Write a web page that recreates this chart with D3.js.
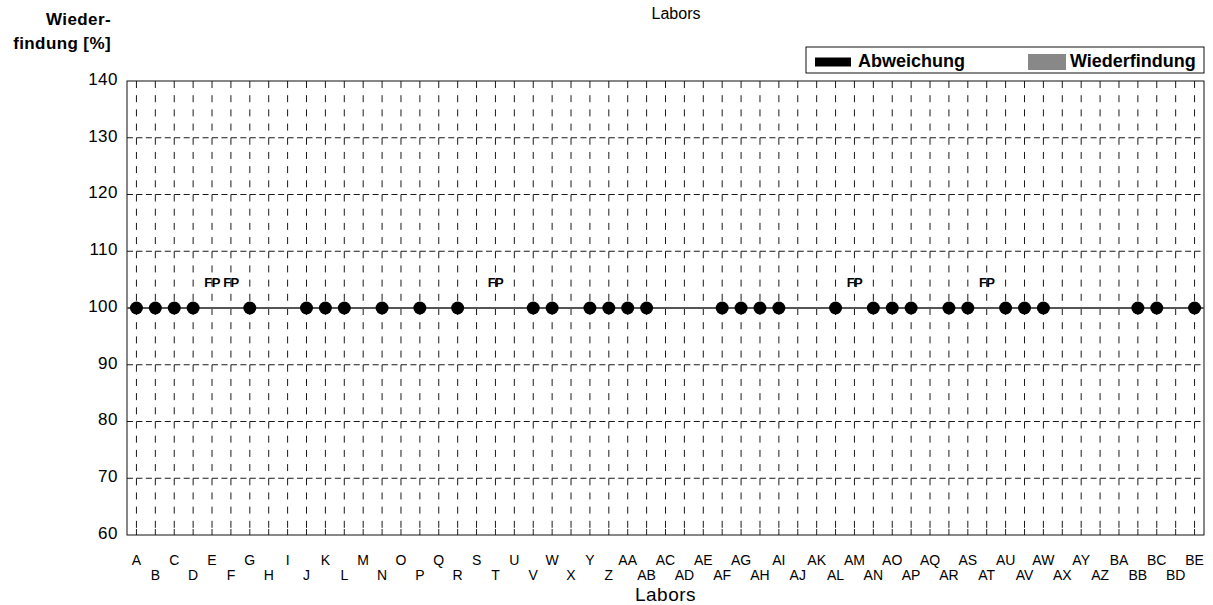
<!DOCTYPE html>
<html>
<head>
<meta charset="utf-8">
<script src="https://cdn.jsdelivr.net/npm/d3@7"></script>
<style>
  body { margin: 0; background: #fff; }
  svg { font-family: "Liberation Sans", Arial, sans-serif; }
  .grid line { stroke: #1a1a1a; stroke-width: 1; }
  .ytick text { font-size: 17px; letter-spacing: 0.5px; }
  .xlab { font-size: 14px; }
  .fp { font-size: 13px; font-weight: bold; letter-spacing: -0.6px; }
</style>
</head>
<body>
<div class="graphic"></div>
<script>
// labs on the x axis
const labs = ["A","B","C","D","E","F","G","H","I","J","K","L","M","N","O","P","Q","R","S","T",
    "U","V","W","X","Y","Z","AA","AB","AC","AD","AE","AF","AG","AH","AI","AJ","AK","AL","AM","AN",
    "AO","AP","AQ","AR","AS","AT","AU","AV","AW","AX","AY","AZ","BA","BB","BC","BD","BE"]

// Wiederfindung per lab (null = no result)
const recovery = [100,100,100,100,null,null,100,null,null,100,100,100,null,100,null,100,null,100,null,null,
    null,100,100,null,100,100,100,100,null,null,null,100,100,100,100,null,null,100,null,100,
    100,100,null,100,100,null,100,100,100,null,null,null,null,100,100,null,100]

// labs flagged as false positive
const fpLabs = ["E","F","T","AM","AT"]

const yTicks = [60,70,80,90,100,110,120,130,140]
const refValue = 100

const width = 1213, height = 605
const mLeft = 127, mRight = 1204, mTop = 81, mBottom = 535

const svg = d3.select(".graphic").append("svg")
    .attr("width", width)
    .attr("height", height)

const x = d3.scaleBand().domain(labs).range([mLeft, mRight])
const y = d3.scaleLinear().domain([yTicks[0], yTicks[yTicks.length - 1]]).range([mBottom, mTop])
const cx = d => x(d) + x.bandwidth() / 2

// dash period: 4 dashes per y step vertically, 2 per lab horizontally
const vPeriod = (y(yTicks[0]) - y(yTicks[1])) / 4
const hPeriod = x.bandwidth() / 2

// horizontal dashed grid
svg.append("g").attr("class", "grid")
    .selectAll("line")
    .data(yTicks.slice(1, -1))
    .enter().append("line")
    .attr("x1", mLeft).attr("x2", mRight)
    .attr("y1", d => y(d)).attr("y2", d => y(d))
    .attr("stroke-dasharray", "6," + (hPeriod - 6))

// vertical dashed grid
svg.append("g").attr("class", "grid")
    .selectAll("line")
    .data(labs)
    .enter().append("line")
    .attr("x1", cx).attr("x2", cx)
    .attr("y1", mTop).attr("y2", mBottom)
    .attr("stroke-dasharray", "7," + (vPeriod - 7))

// small ticks on bottom axis
svg.append("g")
    .selectAll("line")
    .data(labs)
    .enter().append("line")
    .attr("x1", cx).attr("x2", cx)
    .attr("y1", mBottom - 6).attr("y2", mBottom)
    .attr("stroke", "#222")

// frame
svg.append("rect")
    .attr("x", mLeft).attr("y", mTop)
    .attr("width", mRight - mLeft).attr("height", mBottom - mTop)
    .attr("fill", "none")
    .attr("stroke", "#111")

// y tick labels
svg.append("g").attr("class", "ytick")
    .selectAll("text")
    .data(yTicks)
    .enter().append("text")
    .attr("x", mLeft - 9)
    .attr("y", d => y(d) - 2)
    .attr("dy", "0.35em")
    .attr("text-anchor", "end")
    .text(d => d)

// x labels, staggered in two rows
svg.append("g")
    .selectAll("text")
    .data(labs)
    .enter().append("text")
    .attr("class", "xlab")
    .attr("x", cx)
    .attr("y", (d, i) => i % 2 == 0 ? 565 : 580)
    .attr("text-anchor", "middle")
    .text(d => d)

// reference line at 100
svg.append("line")
    .attr("x1", mLeft).attr("x2", mRight)
    .attr("y1", y(refValue)).attr("y2", y(refValue))
    .attr("stroke", "#555")
    .attr("stroke-width", 2)

// points
svg.append("g")
    .selectAll("circle")
    .data(labs.map((d, i) => ({lab: d, value: recovery[i]})).filter(d => d.value != null))
    .enter().append("circle")
    .attr("cx", d => cx(d.lab))
    .attr("cy", d => y(d.value))
    .attr("r", 6.5)
    .attr("fill", "#000")

// FP markers
svg.append("g")
    .selectAll("text")
    .data(fpLabs)
    .enter().append("text")
    .attr("class", "fp")
    .attr("x", cx)
    .attr("y", y(refValue) - 21)
    .attr("text-anchor", "middle")
    .text("FP")

// titles
svg.append("text")
    .attr("x", 676).attr("y", 19)
    .attr("text-anchor", "middle")
    .style("font-size", "16px")
    .text("Labors")

svg.append("text")
    .attr("x", (mLeft + mRight) / 2).attr("y", 601)
    .attr("text-anchor", "middle")
    .style("font-size", "19px").style("letter-spacing", "0.5px")
    .text("Labors")

svg.append("text")
    .attr("x", 111).attr("y", 25)
    .attr("text-anchor", "end")
    .style("font-size", "17px").style("font-weight", "bold").style("letter-spacing", "0.4px")
    .text("Wieder-")

svg.append("text")
    .attr("x", 111).attr("y", 49)
    .attr("text-anchor", "end")
    .style("font-size", "17px").style("font-weight", "bold").style("letter-spacing", "0.4px")
    .text("findung [%]")

// legend
const legend = svg.append("g")
legend.append("rect")
    .attr("x", 806).attr("y", 47)
    .attr("width", mRight - 806).attr("height", 26)
    .attr("fill", "#fff").attr("stroke", "#111")

const legendItems = [
    {name: "Abweichung", color: "#000", x: 815, w: 36, h: 9, tx: 858},
    {name: "Wiederfindung", color: "#888", x: 1028, w: 38, h: 16, tx: 1070}
]
legendItems.forEach(function(d){
    legend.append("rect")
        .attr("x", d.x).attr("y", 62 - d.h / 2)
        .attr("width", d.w).attr("height", d.h)
        .attr("fill", d.color)
    legend.append("text")
        .attr("x", d.tx).attr("y", 67)
        .style("font-size", "18px").style("font-weight", "bold")
        .text(d.name)
})
</script>
</body>
</html>
